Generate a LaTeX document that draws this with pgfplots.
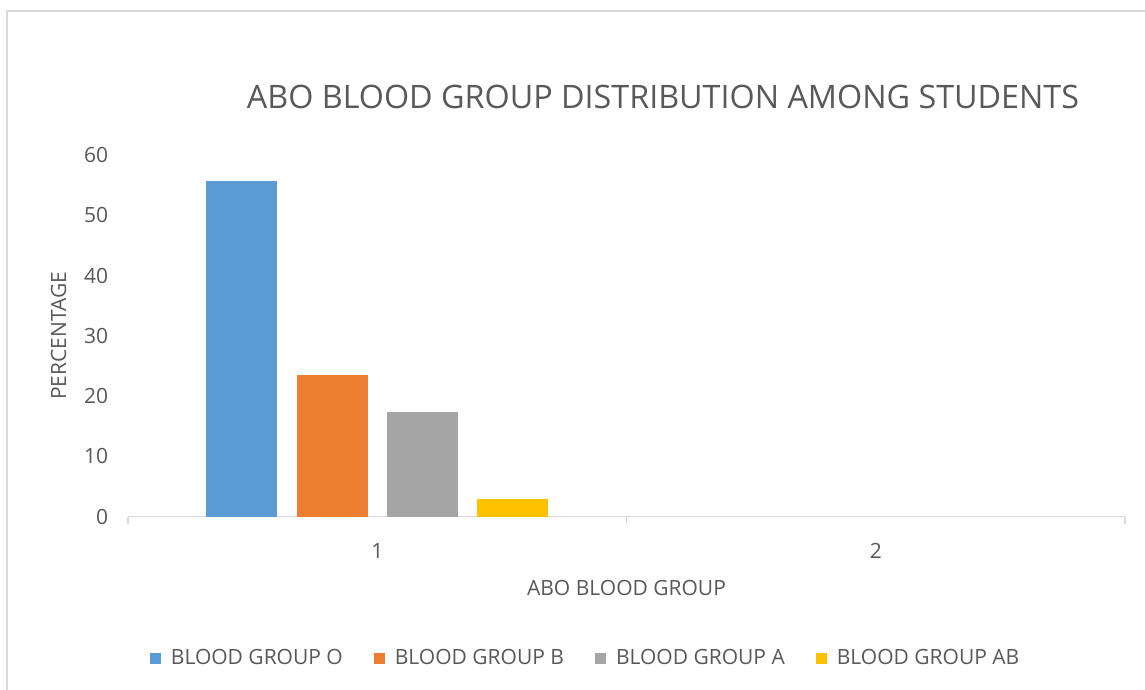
\documentclass[border=0pt]{standalone}
\usepackage{fontspec}
\setmainfont{Open Sans}
\usepackage{pgfplots}
\pgfplotsset{compat=1.18}
\definecolor{cO}{HTML}{5B9BD5}
\definecolor{cB}{HTML}{ED7D31}
\definecolor{cA}{HTML}{A5A5A5}
\definecolor{cAB}{HTML}{FFC000}
\definecolor{txt}{HTML}{595959}
\definecolor{axc}{HTML}{D9D9D9}
\begin{document}
\begin{tikzpicture}[x=1bp,y=1bp]
\useasboundingbox (0,0) rectangle (1145,690);
\fill[white] (0,0) rectangle (1145,690);
\draw[axc, line width=2bp] (7,0) -- (7,679) -- (1145,679);
\begin{axis}[
  at={(128bp,173.3bp)}, anchor=south west,
  scale only axis, width=997bp, height=361.7bp,
  xmin=0.5, xmax=2.5, ymin=0, ymax=60,
  /pgf/number format/assume math mode=true,
  axis x line*=bottom, axis y line*=left,
  x axis line style={axc, line width=1.5bp},
  y axis line style={draw=none},
  ytick={0,10,20,30,40,50,60},
  major y tick style={draw=none},
  xtick={1,2},
  major x tick style={draw=none},
  minor xtick={0.5,1.5,2.5},
  minor x tick style={draw=axc, line width=1.5bp},
  minor tick length=7bp,
  tick align=outside,
  yticklabel style={font=\fontsize{21bp}{21bp}\selectfont, text=txt, xshift=-12bp},
  xticklabel style={font=\fontsize{21bp}{21bp}\selectfont, text=txt, yshift=-19bp},
  xlabel={ABO BLOOD GROUP},
  ylabel={PERCENTAGE},
  ylabel shift=11bp,
  xlabel style={font=\fontsize{21bp}{21bp}\selectfont, text=txt, yshift=-15bp},
  ylabel style={font=\fontsize{21bp}{21bp}\selectfont, text=txt},
  ybar, bar width=0.1424,
  legend image code/.code={\fill[#1] (0bp,-5.5bp) rectangle (11bp,5.5bp);},
  legend style={at={(0.459,-0.391)}, anchor=center, draw=none, fill=none,
    legend columns=4, font=\fontsize{21bp}{21bp}\selectfont, text=txt,
    /tikz/every odd column/.append style={column sep=8bp},
    /tikz/every even column/.append style={column sep=29bp}},
]
\addplot[fill=cO, draw=none, bar shift=-0.2715] coordinates {(1,55.7)};
\addlegendentry{BLOOD GROUP O}
\addplot[fill=cB, draw=none, bar shift=-0.0905] coordinates {(1,23.5)};
\addlegendentry{BLOOD GROUP B}
\addplot[fill=cA, draw=none, bar shift=0.0905] coordinates {(1,17.3)};
\addlegendentry{BLOOD GROUP A}
\addplot[fill=cAB, draw=none, bar shift=0.2715] coordinates {(1,2.9)};
\addlegendentry{BLOOD GROUP AB}
\end{axis}
\node[text=txt, font=\fontsize{32.3bp}{32.3bp}\selectfont] at (663,593) {ABO BLOOD GROUP DISTRIBUTION AMONG STUDENTS};
\end{tikzpicture}
\end{document}
